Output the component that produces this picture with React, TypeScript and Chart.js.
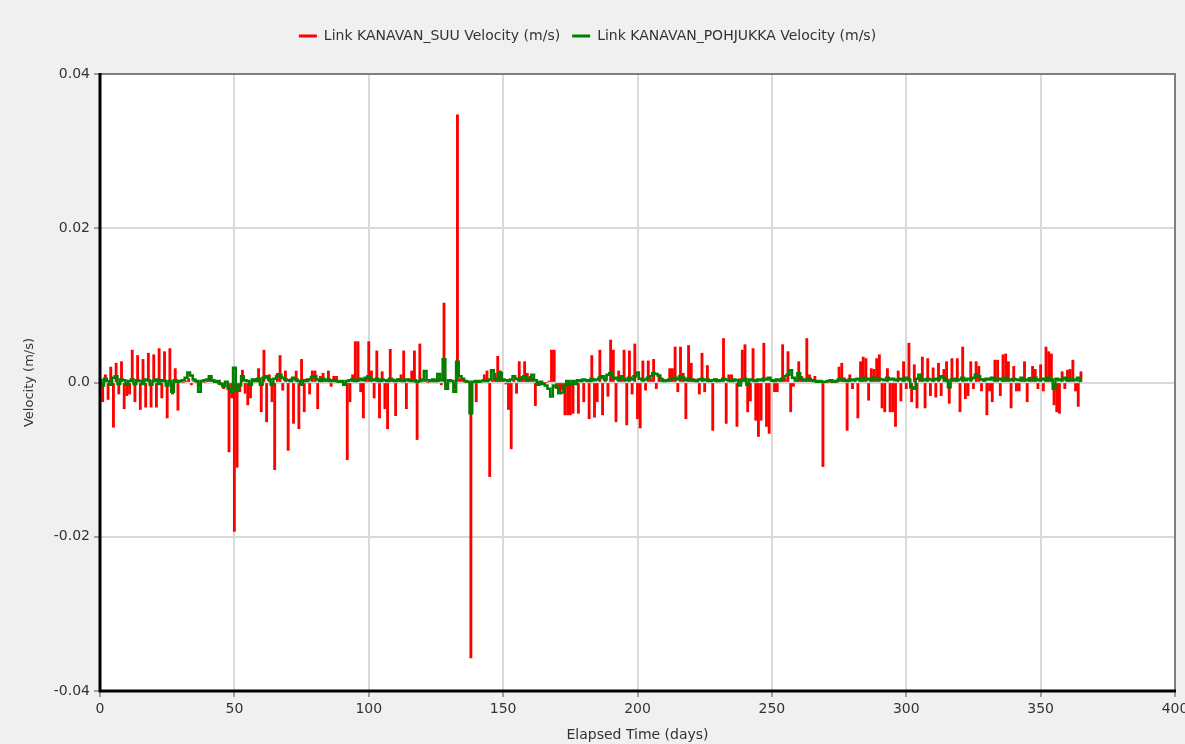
import React, { useEffect, useRef } from "react";
import { Chart, registerables } from "chart.js";

Chart.register(...registerables);

const seriesNames = [
  "Link KANAVAN_SUU Velocity (m/s)",
  "Link KANAVAN_POHJUKKA Velocity (m/s)",
];

// daily values, day 0 .. 365
const suuVelocity = [
  0.0005, -0.0025, 0.0010, -0.0022, 0.0020, -0.0058, 0.0025, -0.0015, 0.0027, -0.0034,
  -0.0017, -0.0015, 0.0042, -0.0025, 0.0035, -0.0035, 0.0030, -0.0032, 0.0038, -0.0032,
  0.0036, -0.0032, 0.0044, -0.0020, 0.0040, -0.0046, 0.0044, -0.0015, 0.0018, -0.0036,
  0.0003, 0.0000, 0.0002, 0.0005, -0.0003, 0.0002, 0.0000, -0.0005, 0.0003, 0.0000,
  0.0004, 0.0008, 0.0002, 0.0000, -0.0002, 0.0000, -0.0008, 0.0000, -0.0090, -0.0020,
  -0.0193, -0.0110, -0.0012, 0.0016, -0.0014, -0.0029, -0.0020, 0.0003, 0.0005, 0.0018,
  -0.0038, 0.0042, -0.0051, 0.0010, -0.0025, -0.0113, 0.0012, 0.0035, -0.0010, 0.0015,
  -0.0088, 0.0005, -0.0053, 0.0015, -0.0060, 0.0030, -0.0038, 0.0005, -0.0015, 0.0015,
  0.0015, -0.0034, 0.0008, 0.0012, 0.0003, 0.0015, -0.0005, 0.0008, 0.0008, 0.0002,
  0.0000, 0.0000, -0.0100, -0.0025, 0.0010, 0.0053, 0.0053, -0.0012, -0.0046, 0.0005,
  0.0053, 0.0015, -0.0020, 0.0041, -0.0046, 0.0014, -0.0034, -0.0060, 0.0043, 0.0005,
  -0.0043, 0.0005, 0.0010, 0.0041, -0.0034, 0.0005, 0.0015, 0.0041, -0.0074, 0.0050,
  0.0002, 0.0003, 0.0000, 0.0002, 0.0003, 0.0001, 0.0005, -0.0003, 0.0103, -0.0005,
  0.0003, 0.0002, -0.0008, 0.0347, 0.0005, 0.0003, 0.0000, 0.0000, -0.0357, 0.0000,
  -0.0025, 0.0000, 0.0001, 0.0010, 0.0015, -0.0122, 0.0003, 0.0012, 0.0034, 0.0015,
  0.0003, -0.0002, -0.0035, -0.0086, 0.0003, -0.0014, 0.0027, 0.0008, 0.0027, 0.0012,
  0.0008, 0.0006, -0.0030, 0.0000, -0.0003, 0.0000, 0.0000, 0.0002, 0.0042, 0.0042,
  -0.0008, -0.0012, -0.0010, -0.0042, -0.0042, -0.0042, -0.0040, 0.0002, -0.0040, 0.0004,
  -0.0025, 0.0003, -0.0047, 0.0035, -0.0045, -0.0025, 0.0042, -0.0042, 0.0005, -0.0018,
  0.0055, 0.0042, -0.0051, 0.0015, 0.0005, 0.0042, -0.0055, 0.0041, -0.0015, 0.0050,
  -0.0047, -0.0059, 0.0028, -0.0010, 0.0028, 0.0005, 0.0030, -0.0008, 0.0008, 0.0006,
  0.0002, 0.0003, 0.0018, 0.0018, 0.0046, -0.0012, 0.0046, 0.0012, -0.0047, 0.0048,
  0.0025, 0.0005, 0.0003, -0.0015, 0.0038, -0.0012, 0.0022, 0.0002, -0.0062, 0.0005,
  0.0003, 0.0003, 0.0057, -0.0053, 0.0010, 0.0010, 0.0003, -0.0057, 0.0005, 0.0042,
  0.0049, -0.0038, -0.0024, 0.0044, -0.0049, -0.0070, -0.0049, 0.0051, -0.0057, -0.0066,
  0.0003, -0.0012, -0.0012, 0.0002, 0.0049, 0.0005, 0.0040, -0.0038, -0.0005, 0.0003,
  0.0027, 0.0008, 0.0002, 0.0057, 0.0010, 0.0003, 0.0008, 0.0000, 0.0000, -0.0109,
  0.0000, 0.0001, 0.0000, 0.0002, 0.0000, 0.0020, 0.0025, 0.0006, -0.0062, 0.0010,
  -0.0008, 0.0003, -0.0046, 0.0027, 0.0033, 0.0031, -0.0023, 0.0018, 0.0017, 0.0031,
  0.0036, -0.0033, -0.0038, 0.0018, -0.0038, -0.0038, -0.0057, 0.0015, -0.0024, 0.0027,
  -0.0008, 0.0051, -0.0025, 0.0023, -0.0033, 0.0007, 0.0033, -0.0033, 0.0031, -0.0017,
  0.0019, -0.0019, 0.0025, -0.0017, 0.0017, 0.0027, -0.0027, 0.0031, 0.0005, 0.0031,
  -0.0038, 0.0046, -0.0021, -0.0017, 0.0027, -0.0008, 0.0027, 0.0021, -0.0011, 0.0005,
  -0.0042, -0.0011, -0.0025, 0.0029, 0.0029, -0.0017, 0.0036, 0.0037, 0.0027, -0.0033,
  0.0021, -0.0011, -0.0011, 0.0005, 0.0027, -0.0025, 0.0007, 0.0021, 0.0017, -0.0008,
  0.0023, -0.0011, 0.0046, 0.0040, 0.0037, -0.0029, -0.0038, -0.0040, 0.0014, -0.0008,
  0.0016, 0.0017, 0.0029, -0.0011, -0.0031, 0.0014,
];

const pohjukkaVelocity = [
  0.0003, -0.0004, 0.0005, 0.0002, -0.0003, 0.0006, 0.0008, -0.0002, 0.0004, 0.0003,
  -0.0003, 0.0002, 0.0004, -0.0002, 0.0003, 0.0002, -0.0002, 0.0004, 0.0003, -0.0003,
  0.0002, 0.0004, -0.0002, 0.0003, 0.0002, -0.0004, 0.0002, -0.0012, 0.0003, 0.0001,
  0.0002, 0.0003, 0.0006, 0.0013, 0.0009, 0.0004, 0.0002, -0.0012, 0.0002, 0.0003,
  0.0004, 0.0008, 0.0003, 0.0001, 0.0002, -0.0002, -0.0005, 0.0001, -0.0008, -0.0012,
  0.0019, -0.0010, -0.0004, 0.0008, 0.0003, 0.0002, -0.0003, 0.0004, 0.0002, 0.0005,
  -0.0003, 0.0006, 0.0008, 0.0004, -0.0003, 0.0005, 0.0008, 0.0010, 0.0006, 0.0004,
  0.0003, 0.0002, 0.0006, 0.0004, 0.0002, -0.0003, 0.0003, 0.0002, 0.0004, 0.0007,
  0.0008, 0.0004, 0.0002, 0.0005, 0.0003, 0.0004, 0.0002, 0.0003, 0.0002, 0.0001,
  0.0002, -0.0003, 0.0002, 0.0003, 0.0004, 0.0002, 0.0003, 0.0005, 0.0003, 0.0006,
  0.0008, 0.0004, 0.0003, 0.0005, 0.0002, 0.0004, 0.0003, 0.0002, 0.0005, 0.0003,
  0.0002, 0.0004, 0.0003, 0.0002, 0.0004, 0.0003, 0.0002, 0.0003, 0.0001, 0.0002,
  0.0004, 0.0015, 0.0003, 0.0002, 0.0004, 0.0002, 0.0011, 0.0003, 0.0030, -0.0008,
  0.0003, 0.0002, -0.0012, 0.0027, 0.0008, 0.0005, 0.0002, 0.0001, -0.0040, 0.0001,
  0.0002, 0.0001, 0.0002, 0.0003, 0.0002, 0.0004, 0.0016, 0.0005, 0.0003, 0.0012,
  0.0004, 0.0003, 0.0002, 0.0004, 0.0008, 0.0005, 0.0003, 0.0006, 0.0008, 0.0003,
  0.0004, 0.0010, 0.0003, -0.0003, 0.0001, -0.0002, -0.0004, -0.0008, -0.0018, -0.0004,
  -0.0006, -0.0014, -0.0013, -0.0004, 0.0002, -0.0003, 0.0002, -0.0002, 0.0003, 0.0002,
  0.0004, 0.0003, 0.0002, 0.0005, 0.0003, 0.0004, 0.0006, 0.0008, 0.0004, 0.0010,
  0.0012, 0.0005, 0.0006, 0.0004, 0.0008, 0.0005, 0.0003, 0.0006, 0.0004, 0.0008,
  0.0013, 0.0005, 0.0003, 0.0004, 0.0006, 0.0008, 0.0012, 0.0011, 0.0009, 0.0004,
  0.0002, 0.0003, 0.0004, 0.0005, 0.0006, 0.0004, 0.0008, 0.0006, 0.0003, 0.0005,
  0.0004, 0.0003, 0.0002, 0.0004, 0.0005, 0.0003, 0.0004, 0.0002, 0.0003, 0.0004,
  0.0002, 0.0003, 0.0005, 0.0004, 0.0003, 0.0002, 0.0004, 0.0003, -0.0004, 0.0003,
  0.0005, -0.0003, 0.0004, 0.0003, 0.0002, 0.0004, 0.0003, 0.0005, 0.0004, 0.0006,
  0.0003, 0.0002, 0.0004, 0.0003, 0.0005, 0.0008, 0.0010, 0.0016, 0.0006, 0.0003,
  0.0012, 0.0005, 0.0003, 0.0004, 0.0005, 0.0003, 0.0002, 0.0001, 0.0002, 0.0001,
  0.0001, 0.0002, 0.0003, 0.0001, 0.0002, 0.0004, 0.0005, 0.0003, 0.0002, 0.0004,
  0.0003, 0.0004, 0.0005, 0.0003, 0.0006, 0.0004, 0.0005, 0.0003, 0.0006, 0.0004,
  0.0005, 0.0004, 0.0003, 0.0006, 0.0004, 0.0005, 0.0003, 0.0004, 0.0005, 0.0003,
  0.0006, 0.0004, -0.0006, -0.0008, 0.0005, 0.0010, 0.0004, 0.0003, 0.0005, 0.0004,
  0.0003, 0.0005, 0.0004, 0.0008, 0.0006, 0.0003, -0.0006, 0.0004, 0.0005, 0.0003,
  0.0004, 0.0006, 0.0003, 0.0005, 0.0004, 0.0006, 0.0010, 0.0008, 0.0004, 0.0003,
  0.0005, 0.0004, 0.0006, 0.0003, 0.0004, 0.0005, 0.0003, 0.0006, 0.0004, 0.0003,
  0.0005, 0.0004, 0.0003, 0.0006, 0.0004, 0.0003, 0.0005, 0.0004, 0.0006, 0.0003,
  0.0004, 0.0005, 0.0003, 0.0006, 0.0004, -0.0008, 0.0005, 0.0003, 0.0004, 0.0006,
  0.0003, 0.0005, 0.0004, 0.0003, 0.0006, 0.0002,
];

const xTickValues = [0, 50, 100, 150, 200, 250, 300, 350, 400];
const yTickValues = [-0.04, -0.02, 0.0, 0.02, 0.04];
const xTitle = "Elapsed Time (days)";
const yTitle = "Velocity (m/s)";

const FONT = "'DejaVu Sans', sans-serif";
const TEXT = "#333333";

const frame = {
  id: "frame",
  beforeInit(chart: any) {
    const lg = chart.legend;
    if (lg) {
      const orig = lg.fit.bind(lg);
      lg.fit = () => {
        orig();
        lg.height = 57;
      };
    }
  },
  beforeDraw(chart: any) {
    const { ctx, chartArea: a } = chart;
    ctx.save();
    ctx.fillStyle = "#f0f0f0";
    ctx.fillRect(0, 0, chart.width, chart.height);
    ctx.fillStyle = "#ffffff";
    ctx.fillRect(a.left, a.top, a.right - a.left, a.bottom - a.top);
    ctx.restore();
  },
  afterDraw(chart: any) {
    const { ctx, chartArea: a } = chart;
    ctx.save();
    ctx.strokeStyle = "#808080";
    ctx.lineWidth = 2;
    ctx.beginPath();
    ctx.moveTo(a.left, a.top);
    ctx.lineTo(a.right, a.top);
    ctx.lineTo(a.right, a.bottom);
    ctx.stroke();
    ctx.strokeStyle = "#000000";
    ctx.lineWidth = 3;
    ctx.beginPath();
    ctx.moveTo(a.left, a.top - 1);
    ctx.lineTo(a.left, a.bottom);
    ctx.lineTo(a.right + 1, a.bottom);
    ctx.stroke();
    ctx.restore();
  },
};

export default function App() {
  const ref = useRef<HTMLCanvasElement>(null);
  useEffect(() => {
    if (!ref.current) return;
    const chart = new Chart(ref.current, {
      type: "line",
      data: {
        datasets: [
          {
            type: "bar",
            label: seriesNames[0],
            data: suuVelocity.map((v, i) => ({ x: i, y: v })),
            borderColor: "#ff0000",
            backgroundColor: "#ff0000",
            borderWidth: 0,
            barThickness: 2.2,
            grouped: false,
            order: 2,
          } as any,
          {
            label: seriesNames[1],
            data: pohjukkaVelocity.map((v, i) => ({ x: i, y: v })),
            borderColor: "#008000",
            backgroundColor: "#008000",
            borderWidth: 2.5,
            pointRadius: 0,
            stepped: "middle",
            order: 1,
          },
        ],
      },
      options: {
        animation: false,
        responsive: false,
        maintainAspectRatio: false,
        layout: { padding: { top: 17, right: 10, left: 0, bottom: 0 } },
        plugins: {
          legend: {
            position: "top",
            labels: {
              boxWidth: 18,
              boxHeight: 3,
              padding: 12,
              color: TEXT,
              font: { family: FONT, size: 14 },
              sort: (a: any, b: any) => a.datasetIndex - b.datasetIndex,
              generateLabels: (c: any) =>
                Chart.defaults.plugins.legend.labels
                  .generateLabels(c)
                  .map((l: any) => ({ ...l, lineWidth: 0 })),
            },
          },
          tooltip: { enabled: false },
        },
        scales: {
          x: {
            type: "linear",
            min: 0,
            max: 400,
            offset: false,
            afterBuildTicks: (s: any) => {
              s.ticks = xTickValues.map((v) => ({ value: v }));
            },
            afterFit: (s: any) => {
              s.height = 53;
              s.paddingRight = 0;
            },
            ticks: {
              color: TEXT,
              font: { family: FONT, size: 14 },
              padding: 4,
              maxRotation: 0,
            },
            grid: {
              offset: false,
              color: "#d9d9d9",
              lineWidth: 2,
              tickLength: 6,
              tickColor: "#a0a0a0",
            },
            border: { display: false },
            title: {
              display: true,
              text: xTitle,
              color: TEXT,
              font: { family: FONT, size: 14 },
              padding: { top: 10, bottom: 0 },
            },
          },
          y: {
            type: "linear",
            min: -0.04,
            max: 0.04,
            afterBuildTicks: (s: any) => {
              s.ticks = yTickValues.map((v) => ({ value: v }));
            },
            afterFit: (s: any) => {
              s.width = 100;
            },
            ticks: {
              color: TEXT,
              font: { family: FONT, size: 14 },
              padding: 4,
              callback: (v: any) => (Math.abs(v) < 1e-9 ? "0.0" : Number(v).toFixed(2)),
            },
            grid: {
              color: "#d9d9d9",
              lineWidth: 2,
              tickLength: 6,
              tickColor: "#a0a0a0",
            },
            border: { display: false },
            title: {
              display: true,
              text: yTitle,
              color: TEXT,
              font: { family: FONT, size: 13 },
              padding: { top: 22, bottom: 0 },
            },
          },
        },
      },
      plugins: [frame],
    });
    return () => chart.destroy();
  }, []);
  return (
    <div style={{ position: "fixed", left: 0, top: 0, width: 1185, height: 744, background: "#f0f0f0" }}>
      <canvas ref={ref} width={1185} height={744} style={{ width: 1185, height: 744, display: "block" }} />
    </div>
  );
}
